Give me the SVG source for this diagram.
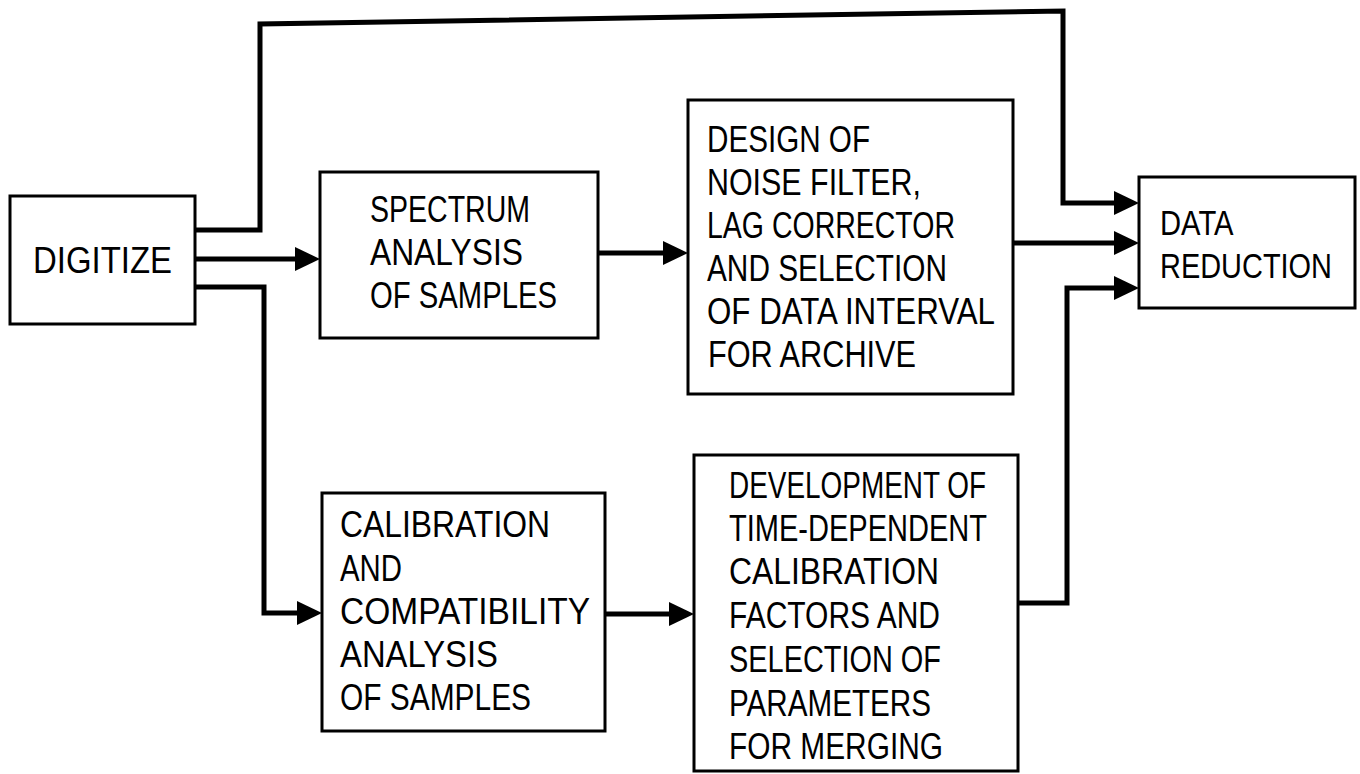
<svg xmlns="http://www.w3.org/2000/svg" width="1360" height="774" viewBox="0 0 1360 774">
<style>
.box{fill:#fff;stroke:#000;stroke-width:3}
.con{fill:none;stroke:#000;stroke-width:5;stroke-linejoin:miter}
text{font-family:"Liberation Sans","DejaVu Sans",Arial,sans-serif;font-size:36px;fill:#000}
</style>
<defs>
<marker id="ah" markerUnits="userSpaceOnUse" markerWidth="26" markerHeight="26" refX="15" refY="12" orient="auto" viewBox="0 0 26 26">
<path d="M0,0 L25,12 L0,24 z" fill="#000"/>
</marker>
</defs>
<rect width="1360" height="774" fill="#fff"/>
<g id="connectors">
<path class="con" d="M195,230 H260 V24 L1063,11 V203 H1129" marker-end="url(#ah)"/>
<path class="con" d="M195,259 H310" marker-end="url(#ah)"/>
<path class="con" d="M195,287 H264 V613 H312" marker-end="url(#ah)"/>
<path class="con" d="M598,253 H678" marker-end="url(#ah)"/>
<path class="con" d="M1013,243 H1129" marker-end="url(#ah)"/>
<path class="con" d="M1018,603 H1067 V288 H1129" marker-end="url(#ah)"/>
<path class="con" d="M605,614 H684" marker-end="url(#ah)"/>
</g>
<g id="digitize">
<rect class="box" x="10" y="196" width="185" height="128"/>
<text x="33" y="273" textLength="139" lengthAdjust="spacingAndGlyphs">DIGITIZE</text>
</g>
<g id="spectrum">
<rect class="box" x="320" y="172" width="278" height="166"/>
<text x="370" y="222" textLength="160" lengthAdjust="spacingAndGlyphs">SPECTRUM</text>
<text x="370" y="265" textLength="153" lengthAdjust="spacingAndGlyphs">ANALYSIS</text>
<text x="370" y="308" textLength="187" lengthAdjust="spacingAndGlyphs">OF SAMPLES</text>
</g>
<g id="design">
<rect class="box" x="688" y="100" width="325" height="294"/>
<text x="707" y="152" textLength="163" lengthAdjust="spacingAndGlyphs">DESIGN OF</text>
<text x="707" y="195" textLength="214" lengthAdjust="spacingAndGlyphs">NOISE FILTER,</text>
<text x="707" y="238" textLength="248" lengthAdjust="spacingAndGlyphs">LAG CORRECTOR</text>
<text x="707" y="281" textLength="240" lengthAdjust="spacingAndGlyphs">AND SELECTION</text>
<text x="707" y="324" textLength="288" lengthAdjust="spacingAndGlyphs">OF DATA INTERVAL</text>
<text x="708" y="367" textLength="208" lengthAdjust="spacingAndGlyphs">FOR ARCHIVE</text>
</g>
<g id="data-reduction">
<rect class="box" x="1139" y="177" width="216" height="131"/>
<g transform="translate(1160,0) scale(0.8,1)">
<text x="0" y="235" textLength="92" lengthAdjust="spacingAndGlyphs">DATA</text>
<text x="0" y="278" textLength="215" lengthAdjust="spacingAndGlyphs">REDUCTION</text>
</g>
</g>
<g id="calibration">
<rect class="box" x="322" y="493" width="283" height="238"/>
<text x="340" y="537" textLength="210" lengthAdjust="spacingAndGlyphs">CALIBRATION</text>
<text x="340" y="581" textLength="62" lengthAdjust="spacingAndGlyphs">AND</text>
<text x="340" y="624" textLength="250" lengthAdjust="spacingAndGlyphs">COMPATIBILITY</text>
<text x="340" y="667" textLength="158" lengthAdjust="spacingAndGlyphs">ANALYSIS</text>
<text x="340" y="710" textLength="191" lengthAdjust="spacingAndGlyphs">OF SAMPLES</text>
</g>
<g id="development">
<rect class="box" x="694" y="455" width="324" height="316"/>
<text x="729" y="498" textLength="257" lengthAdjust="spacingAndGlyphs">DEVELOPMENT OF</text>
<text x="729" y="541" textLength="258" lengthAdjust="spacingAndGlyphs">TIME-DEPENDENT</text>
<text x="729" y="584" textLength="210" lengthAdjust="spacingAndGlyphs">CALIBRATION</text>
<text x="729" y="628" textLength="211" lengthAdjust="spacingAndGlyphs">FACTORS AND</text>
<text x="729" y="672" textLength="212" lengthAdjust="spacingAndGlyphs">SELECTION OF</text>
<text x="729" y="716" textLength="202" lengthAdjust="spacingAndGlyphs">PARAMETERS</text>
<text x="729" y="759" textLength="214" lengthAdjust="spacingAndGlyphs">FOR MERGING</text>
</g>
</svg>
